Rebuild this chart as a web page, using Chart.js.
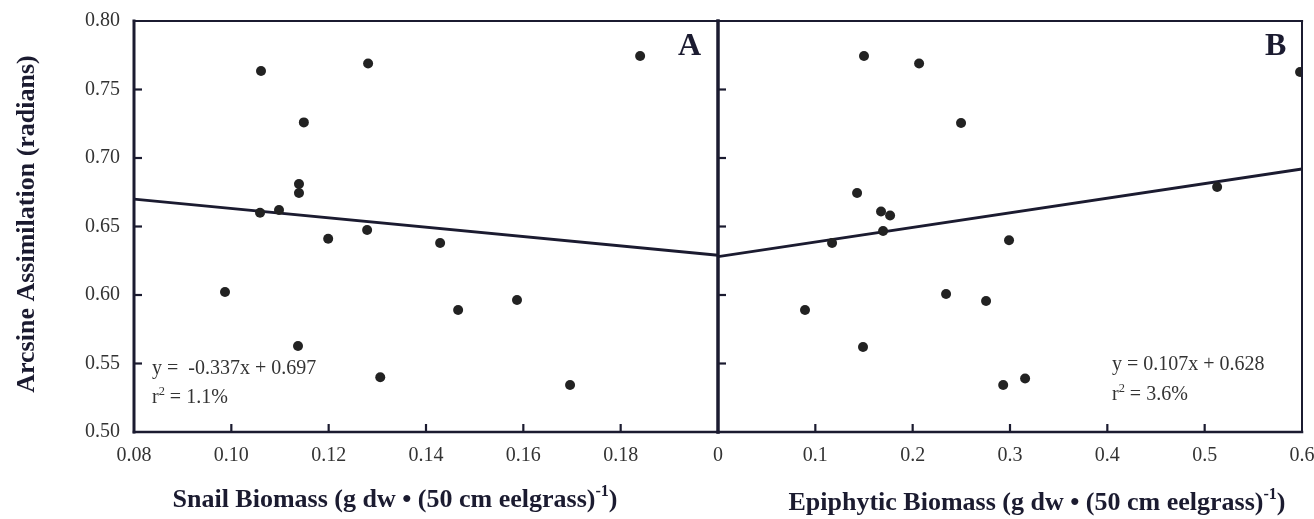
<!DOCTYPE html>
<html>
<head>
<meta charset="utf-8">
<script src="https://cdn.jsdelivr.net/npm/chart.js@4"></script>
<style>
  html, body { margin: 0; padding: 0; background: #fff; }
  #wrap { position: relative; width: 1314px; height: 519px; }
  #wrap canvas { position: absolute; left: 0; top: 0; }
</style>
</head>
<body>
<div id="wrap">
  <canvas id="chartA" width="1314" height="519"></canvas>
  <canvas id="chartB" width="1314" height="519"></canvas>
</div>
<script>
// ── Data ──
const yTicks = [0.50, 0.55, 0.60, 0.65, 0.70, 0.75, 0.80];

const snailTicks      = [0.08, 0.10, 0.12, 0.14, 0.16, 0.18, 0.20];
const snailTickLabels = ["0.08", "0.10", "0.12", "0.14", "0.16", "0.18", ""];
const epiTicks        = [0, 0.1, 0.2, 0.3, 0.4, 0.5, 0.6];
const epiTickLabels   = ["0", "0.1", "0.2", "0.3", "0.4", "0.5", "0.6"];

// Panel A – snail biomass
const snailX = [0.1061, 0.1281, 0.1149, 0.1139, 0.1139, 0.1059, 0.1098, 0.1199,
                0.1279, 0.1429, 0.1840, 0.0987, 0.1137, 0.1306, 0.1466, 0.1587, 0.1696];
const snailY = [0.7635, 0.7690, 0.7260, 0.6810, 0.6744, 0.6600, 0.6620, 0.6410,
                0.6475, 0.6380, 0.7745, 0.6022, 0.5628, 0.5400, 0.5890, 0.5963, 0.5343];
const snailFitX = [0.08, 0.20];
const snailFitY = [0.670, 0.629];

// Panel B – epiphytic biomass
const epiX = [0.150, 0.2066, 0.2497, 0.1429, 0.1675, 0.1768, 0.1696, 0.1172, 0.299,
              0.0894, 0.149, 0.2343, 0.2754, 0.293, 0.3155, 0.5128, 0.598];
const epiY = [0.7745, 0.769, 0.7255, 0.6744, 0.661, 0.658, 0.6467, 0.638, 0.640,
              0.589, 0.5621, 0.6007, 0.5956, 0.5343, 0.539, 0.6788, 0.7628];
const epiFitX = [0, 0.6];
const epiFitY = [0.628, 0.692];

const SERIF = "'Liberation Serif', 'Times New Roman', serif";
const INK = "#1b1b30";
const DOT = "#222";
const TXT = "#333";

const toPoints = (xs, ys) => xs.map((x, i) => ({ x: x, y: ys[i] }));

// draw text made of parts, some superscript
function drawParts(ctx, x, y, parts, size, weight, align) {
    const font = s => `${weight} ${s}px ${SERIF}`;
    let w = 0;
    parts.forEach(p => {
        ctx.font = font(p.sup ? size * 0.62 : size);
        w += ctx.measureText(p.t).width;
    });
    let cx = align === "center" ? x - w / 2 : x;
    ctx.textAlign = "left";
    ctx.textBaseline = "alphabetic";
    parts.forEach(p => {
        ctx.font = font(p.sup ? size * 0.62 : size);
        ctx.fillText(p.t, cx, p.sup ? y - size * 0.42 : y);
        cx += ctx.measureText(p.t).width;
    });
}

// frame, inward ticks and all free text
const framePlugin = {
    id: "frame",
    afterDatasetsDraw(chart, args, opts) {
        const ctx = chart.ctx;
        const a = chart.chartArea;
        const xs = chart.scales.x, ys = chart.scales.y;
        ctx.save();
        ctx.strokeStyle = INK;
        ctx.lineCap = "square";

        const line = (x1, y1, x2, y2, lw) => {
            ctx.lineWidth = lw;
            ctx.beginPath();
            ctx.moveTo(x1, y1);
            ctx.lineTo(x2, y2);
            ctx.stroke();
        };

        line(a.left, a.top, a.right, a.top, 2.2);
        line(a.left, a.bottom, a.right, a.bottom, 2.5);
        if (opts.panel === "A") {
            line(a.left, a.top, a.left, a.bottom, 3);
            line(a.right, a.top, a.right, a.bottom, 3.5);
        } else {
            line(a.right, a.top, a.right, a.bottom, 2);
        }

        // inward ticks
        ctx.lineCap = "butt";
        yTicks.slice(1, -1).forEach(v => {
            const py = ys.getPixelForValue(v);
            line(a.left, py, a.left + 8, py, 2.2);
        });
        const xt = opts.panel === "A" ? snailTicks : epiTicks;
        xt.slice(1, -1).forEach(v => {
            const px = xs.getPixelForValue(v);
            line(px, a.bottom, px, a.bottom - 8, 2.2);
        });

        ctx.fillStyle = INK;
        if (opts.panel === "A") {
            ctx.save();
            ctx.translate(34, 224);
            ctx.rotate(-Math.PI / 2);
            drawParts(ctx, 0, 0, [{ t: "Arcsine Assimilation (radians)" }], 26, "bold", "center");
            ctx.restore();

            drawParts(ctx, 395, 507, [
                { t: "Snail Biomass (g dw \u2022 (50 cm eelgrass)" }, { t: "-1", sup: true }, { t: ")" }
            ], 26, "bold", "center");

            ctx.fillStyle = TXT;
            drawParts(ctx, 152, 374, [{ t: "y =  -0.337x + 0.697" }], 20, "normal", "left");
            drawParts(ctx, 152, 403, [{ t: "r" }, { t: "2", sup: true }, { t: " = 1.1%" }], 20, "normal", "left");

            ctx.fillStyle = INK;
            drawParts(ctx, 678, 55, [{ t: "A" }], 32, "bold", "left");
        } else {
            drawParts(ctx, 1037, 510, [
                { t: "Epiphytic Biomass (g dw \u2022 (50 cm eelgrass)" }, { t: "-1", sup: true }, { t: ")" }
            ], 26, "bold", "center");

            ctx.fillStyle = TXT;
            drawParts(ctx, 1112, 370, [{ t: "y = 0.107x + 0.628" }], 20, "normal", "left");
            drawParts(ctx, 1112, 400, [{ t: "r" }, { t: "2", sup: true }, { t: " = 3.6%" }], 20, "normal", "left");

            ctx.fillStyle = INK;
            drawParts(ctx, 1265, 55, [{ t: "B" }], 32, "bold", "left");
        }
        ctx.restore();
    }
};

function buildChart(id, panel, pts, fit, xTicks, xLabels, padding, showY) {
    return new Chart(document.getElementById(id), {
        type: "scatter",
        data: {
            datasets: [{
                data: pts,
                backgroundColor: DOT,
                borderWidth: 0,
                pointRadius: 5,
                pointHoverRadius: 5
            }, {
                type: "line",
                data: fit,
                borderColor: INK,
                borderWidth: 2.8,
                pointRadius: 0,
                fill: false,
                tension: 0
            }]
        },
        options: {
            responsive: false,
            animation: false,
            layout: { padding: padding },
            plugins: {
                legend: { display: false },
                tooltip: { enabled: false },
                frame: { panel: panel }
            },
            scales: {
                x: {
                    type: "linear",
                    min: xTicks[0],
                    max: xTicks[xTicks.length - 1],
                    afterBuildTicks: s => { s.ticks = xTicks.map(v => ({ value: v })); },
                    afterFit: s => { s.height = 87; s.paddingLeft = 0; s.paddingRight = 0; },
                    grid: { display: false, drawTicks: false },
                    border: { display: false },
                    ticks: {
                        autoSkip: false,
                        maxRotation: 0,
                        padding: 12,
                        color: TXT,
                        font: { family: SERIF, size: 20 },
                        callback: (v, i) => xLabels[i]
                    }
                },
                y: {
                    display: showY,
                    min: 0.5,
                    max: 0.8,
                    afterBuildTicks: s => { s.ticks = yTicks.map(v => ({ value: v })); },
                    afterFit: s => {
                        s.width = showY ? 134 : 0;
                        s.paddingTop = 0;
                        s.paddingBottom = 0;
                    },
                    grid: { display: false, drawTicks: false },
                    border: { display: false },
                    ticks: {
                        padding: 14,
                        color: TXT,
                        font: { family: SERIF, size: 20 },
                        callback: v => v.toFixed(2)
                    }
                }
            }
        },
        plugins: [framePlugin]
    });
}

buildChart("chartA", "A", toPoints(snailX, snailY), toPoints(snailFitX, snailFitY),
    snailTicks, snailTickLabels, { left: 0, right: 1314 - 718, top: 21, bottom: 0 }, true);
buildChart("chartB", "B", toPoints(epiX, epiY), toPoints(epiFitX, epiFitY),
    epiTicks, epiTickLabels, { left: 718, right: 12, top: 21, bottom: 0 }, false);
</script>
</body>
</html>
